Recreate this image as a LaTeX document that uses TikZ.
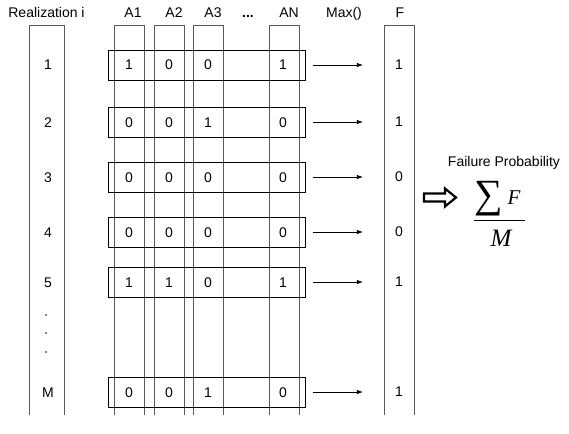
\documentclass[tikz,border=0pt]{standalone}
\usepackage{fontspec}
\setmainfont{Liberation Sans}
\newfontfamily\serifit[ItalicFont={Liberation Serif Italic}]{Liberation Serif}
\usetikzlibrary{arrows.meta}
\begin{document}
\begin{tikzpicture}[x=1pt,y=-1pt,
  txt/.style={font=\fontsize{14}{14}\selectfont, inner sep=0pt},
  hd/.style={txt, anchor=base},
  colline/.style={draw=black!65, line width=0.8pt},
  rowbox/.style={draw=black, line width=0.7pt, minimum width=197pt, minimum height=30pt, inner sep=0pt},
  maxarrow/.style={-{Latex[length=6pt,width=4.5pt]}, line width=0.8pt, shorten <=8pt, shorten >=32pt},
]
\useasboundingbox (0,0) rectangle (569,433);
% columns
\draw[colline] (29,415) -- (29,25) -- (64,25) -- (64,415);
\draw[colline] (114,415) -- (114,25) -- (144,25) -- (144,415);
\draw[colline] (154,415) -- (154,25) -- (184,25) -- (184,415);
\draw[colline] (193,415) -- (193,25) -- (223,25) -- (223,415);
\draw[colline] (269,415) -- (269,25) -- (299,25) -- (299,415);
\draw[colline] (384,415) -- (384,25) -- (414,25) -- (414,415);
% headers
\node[hd] (hR) at (46.5,18) {Realization i};
\node[hd] (hA1) at (133,18) {A1};
\node[hd] (hA2) at (174,18) {A2};
\node[hd] (hA3) at (213,18) {A3};
\node[hd] (hdots) at (248,18) {\textbf{...}};
\node[hd] (hAN) at (289,18) {AN};
\node[hd] (hMax) at (344,18) {Max()};
\node[hd] (hF) at (400,18) {F};
% rows
\foreach \n/\y/\lab/\a/\b/\c/\d/\f in {1/65/1/1/0/0/1/1, 2/122/2/0/0/1/0/1, 3/177/3/0/0/0/0/0, 4/232/4/0/0/0/0/0, 5/282/5/1/1/0/1/1, 6/392/M/0/0/1/0/1}{
  \node[rowbox] (r\n) at (206.5,\y) {};
  \node[hd] (l\n) at (48,\y+5) {\lab};
  \node[hd] (c\n a) at (129,\y+5) {\a};
  \node[hd] (c\n b) at (169,\y+5) {\b};
  \node[hd] (c\n c) at (208,\y+5) {\c};
  \node[hd] (c\n d) at (283,\y+5) {\d};
  \node[txt] (f\n) at (399,\y) {\f};
  \draw[maxarrow] (r\n.east) -- (f\n.west);
}
% vertical dots
\fill (46,315) circle (0.9pt);
\fill (46,333) circle (0.9pt);
\fill (46,352) circle (0.9pt);
% failure probability
\node[txt] (fp) at (504,163) {Failure Probability};
\draw[line width=2.2pt, line join=miter] (424,193.5) -- (445,193.5) -- (445,188.5) -- (456,197.5) -- (445,206.5) -- (445,201.5) -- (424,201.5) -- cycle;
\node[inner sep=0pt, font=\serifit\fontsize{40}{40}\selectfont] (sig) at (489,198.5) {∑};
\node[inner sep=0pt, font=\serifit\itshape\fontsize{21}{21}\selectfont] (fF) at (514,197.5) {F};
\node[inner sep=0pt, font=\serifit\itshape\fontsize{25}{25}\selectfont] (fM) at (501,238.5) {M};
\draw[line width=0.8pt] (474,220) -- (525,220);
\end{tikzpicture}
\end{document}
